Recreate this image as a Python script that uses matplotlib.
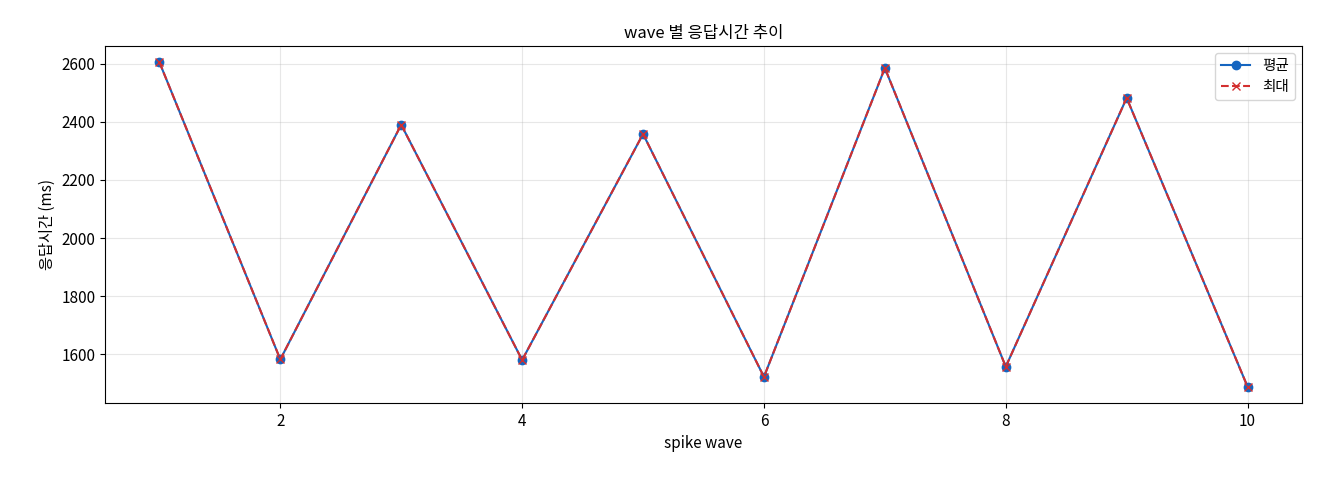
import matplotlib
matplotlib.use("Agg")
import matplotlib.pyplot as plt

plt.rcParams['font.family'] = ['Noto Sans CJK KR', 'DejaVu Sans']
plt.rcParams['axes.unicode_minus'] = False

waves = [1, 2, 3, 4, 5, 6, 7, 8, 9, 10]
avg = [2605, 1582, 2390, 1580, 2358, 1522, 2585, 1557, 2482, 1488]
mx = [2605, 1582, 2390, 1580, 2358, 1522, 2585, 1557, 2482, 1488]

fig = plt.figure(figsize=(13.2, 4.8), dpi=100)
ax = fig.add_axes([105/1320, 1-403/480, (1302-105)/1320, (403-46)/480])
ax.plot(waves, avg, '-o', color='#1565c0', label='평균', markersize=6)
ax.plot(waves, mx, '--x', color='#d32f2f', label='최대', markersize=6)
ax.set_title('wave 별 응답시간 추이', fontsize=12)
ax.set_xlabel('spike wave', fontsize=11)
ax.set_ylabel('응답시간 (ms)', fontsize=11)
ax.tick_params(labelsize=11)
ax.grid(True, alpha=0.3)
ax.legend(loc='upper right', fontsize=10.5)
fig.savefig('out.png', dpi=100)
